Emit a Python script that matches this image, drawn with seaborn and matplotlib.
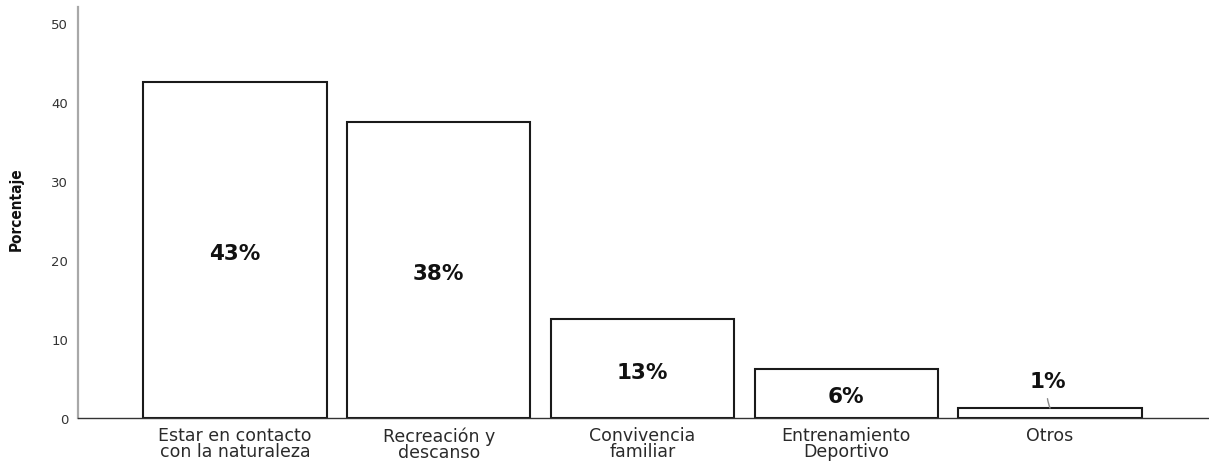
import math
import matplotlib
matplotlib.use("Agg")
import matplotlib.pyplot as plt
import pandas as pd
import seaborn as sns

# Motivos de visita y porcentaje de respuestas
categorias = [
    "Estar en contacto\ncon la naturaleza",
    "Recreación y\ndescanso",
    "Convivencia\nfamiliar",
    "Entrenamiento\nDeportivo",
    "Otros",
]
porcentajes = [42.5, 37.5, 12.5, 6.25, 1.25]
marcas_y = [0, 10, 20, 30, 40, 50]

sns.set_style("white")
plt.rcParams["font.family"] = ["DejaVu Sans"]

fig = plt.figure(figsize=(12.09, 4.64), dpi=100)
ax = fig.add_axes([78 / 1209, 45 / 464, 1131 / 1209, 411 / 464])

df = pd.DataFrame({"motivo": categorias, "pct": porcentajes})
sns.barplot(data=df, x="motivo", y="pct", color="white", saturation=1,
            edgecolor="#1a1a1a", linewidth=1.5, width=0.9, ax=ax)

ax.set_xlim(-0.77, 4.78)
ax.set_ylim(0, 52)
ax.set_yticks(marcas_y)
ax.set_xlabel("")

for i, v in enumerate(porcentajes):
    etiqueta = f"{math.floor(v + 0.5)}%"
    if v >= 3:
        ax.text(i, v / 2 - 0.4, etiqueta, ha="center", va="center",
                fontsize=15.5, fontweight="bold", color="#111111")
    else:
        ax.annotate(etiqueta, xy=(i, v), xytext=(i - 0.01, v + 3.4),
                    ha="center", va="center", fontsize=15.5,
                    fontweight="bold", color="#111111",
                    arrowprops=dict(arrowstyle="-", color="#8a8a8a", lw=1.0,
                                    shrinkA=3, shrinkB=0,
                                    connectionstyle="arc3,rad=0.15"))

ax.tick_params(axis="x", length=0, pad=6, labelsize=12.5, labelcolor="#2a2a2a")
ax.tick_params(axis="y", length=0, pad=7, labelsize=9.5, labelcolor="#333333")
for lab in ax.get_xticklabels():
    lab.set_linespacing(0.85)

sns.despine(ax=ax)
ax.spines["left"].set_color("#a8a8a8")
ax.spines["left"].set_linewidth(1.6)
ax.spines["bottom"].set_color("#333333")
ax.spines["bottom"].set_linewidth(1.0)

ax.set_ylabel("Porcentaje", fontsize=11, fontweight="bold",
              fontstretch="condensed", color="#111111",
              family=["Liberation Sans Narrow", "DejaVu Sans"])
ax.yaxis.set_label_coords(-0.048, 0.51)

fig.savefig("out.png", dpi=100)
